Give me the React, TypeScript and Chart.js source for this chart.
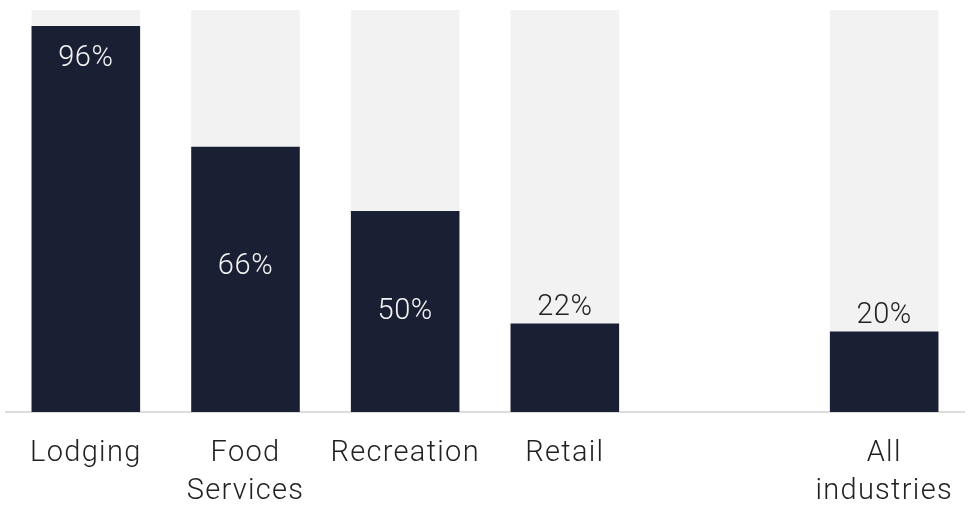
import React, { useEffect, useRef } from "react";
import { Chart, registerables } from "chart.js";

Chart.register(...registerables);

const categories: (string | string[])[] = [
  "Lodging",
  ["Food", "Services"],
  "Recreation",
  "Retail",
  "",
  ["All", "industries"],
];
const shareValues: (number | null)[] = [96, 66, 50, 22, null, 20];
const backgroundValues: (number | null)[] = [100, 100, 100, 100, null, 100];
const labelPlacement: string[] = ["top", "upper", "center", "above", "none", "above"];

const NAVY = "#1a2034";
const LIGHT = "#f2f2f2";
const FONT = "Roboto, 'Noto Sans', sans-serif";

const spacingPlugin = {
  id: "letterSpacing",
  beforeDraw(chart: any) {
    chart.ctx.letterSpacing = "1.3px";
  },
};

const labelPlugin = {
  id: "valueLabels",
  afterDatasetsDraw(chart: any) {
    const meta = chart.getDatasetMeta(0);
    const ctx = chart.ctx;
    ctx.save();
    ctx.font = `300 29px ${FONT}`;
    ctx.letterSpacing = "0.6px";
    ctx.textAlign = "center";
    meta.data.forEach((el: any, i: number) => {
      const v = shareValues[i];
      if (v == null) return;
      const mode = labelPlacement[i];
      const text = `${v}%`;
      if (mode === "above") {
        ctx.fillStyle = "#222222";
        ctx.textBaseline = "alphabetic";
        ctx.fillText(text, el.x, el.y - 9);
      } else if (mode === "top") {
        ctx.fillStyle = "#f4f4f4";
        ctx.textBaseline = "middle";
        ctx.fillText(text, el.x, el.y + 33);
      } else if (mode === "upper") {
        ctx.fillStyle = "#f4f4f4";
        ctx.textBaseline = "middle";
        ctx.fillText(text, el.x, el.y + (el.base - el.y) * 0.44 + 3);
      } else if (mode === "center") {
        ctx.fillStyle = "#f4f4f4";
        ctx.textBaseline = "middle";
        ctx.fillText(text, el.x, (el.y + el.base) / 2);
      }
    });
    ctx.restore();
  },
};

export default function App() {
  const ref = useRef<HTMLCanvasElement | null>(null);
  useEffect(() => {
    if (!ref.current) return;
    const chart = new Chart(ref.current, {
      type: "bar",
      data: {
        labels: categories,
        datasets: [
          {
            data: shareValues,
            backgroundColor: NAVY,
            borderWidth: 0,
            order: 1,
            grouped: false,
            barPercentage: 0.68,
            categoryPercentage: 1,
          },
          {
            data: backgroundValues,
            backgroundColor: LIGHT,
            borderWidth: 0,
            order: 2,
            grouped: false,
            barPercentage: 0.68,
            categoryPercentage: 1,
          },
        ],
      },
      options: {
        animation: false,
        responsive: false,
        devicePixelRatio: 1,
        layout: { padding: { left: 6, right: 13, top: 10, bottom: 0 } },
        plugins: {
          legend: { display: false },
          tooltip: { enabled: false },
        },
        scales: {
          x: {
            grid: { display: false, drawTicks: false },
            border: { display: true, color: "#dcdcdc", width: 2 },
            ticks: {
              padding: 22,
              color: "#222222",
              maxRotation: 0,
              autoSkip: false,
              font: { family: FONT, size: 29, weight: 300 as any, lineHeight: 1.33 },
            },
            afterFit: (scale: any) => {
              scale.height = 107;
            },
          },
          y: {
            display: false,
            min: 0,
            max: 100,
          },
        },
      },
      plugins: [spacingPlugin, labelPlugin],
    });
    return () => chart.destroy();
  }, []);
  return (
    <div style={{ position: "absolute", left: 0, top: 0, width: 977, height: 519, background: "#fff" }}>
      <canvas ref={ref} width={977} height={519} style={{ display: "block" }} />
    </div>
  );
}
